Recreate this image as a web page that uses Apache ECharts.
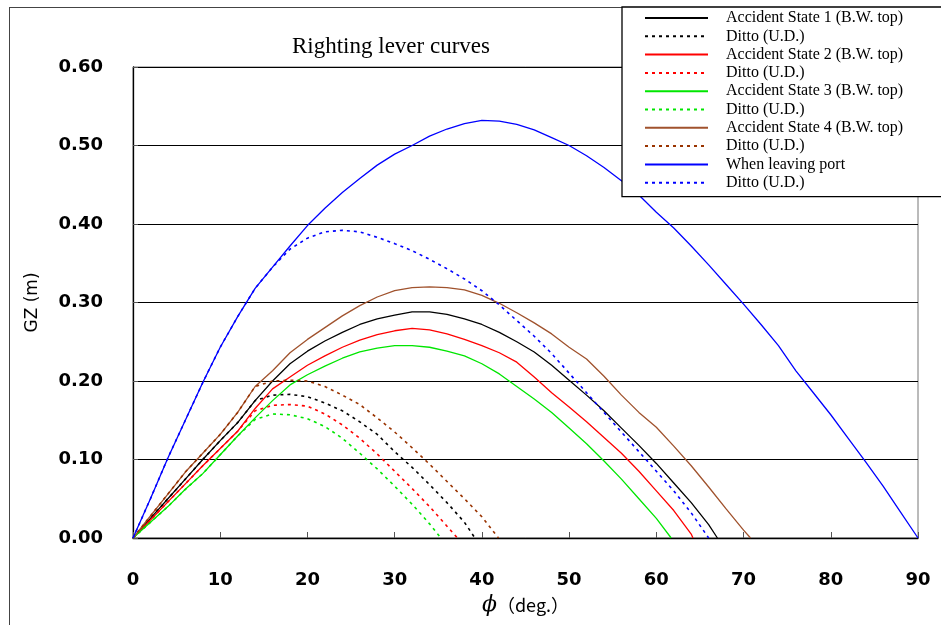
<!DOCTYPE html>
<html lang="en">
<head>
    <meta charset="UTF-8">
    <title>Righting lever curves</title>
    <script src="https://cdn.jsdelivr.net/npm/echarts@6/dist/echarts.min.js"></script>
    <style>
        body { margin: 0; background: #fff; overflow: hidden; }
        #frame { position: absolute; left: 9px; top: 7px; width: 1000px; height: 700px; border: 1.5px solid #444; }
        #main { position: absolute; left: 0; top: 0; width: 941px; height: 625px; }
    </style>
</head>
<body>
<div id="frame"></div>
<div id="main"></div>
<script type="text/javascript">
    // heel angle (deg) and GZ (m) for each curve
    var phiPort = [0, 2, 4, 6, 8, 10, 12, 14, 16, 18, 20, 22, 24, 26, 28, 30, 32, 34, 36, 38, 40, 42, 44, 46, 48, 50, 52, 54, 56, 58, 60, 62, 64, 66, 68, 70, 72, 74, 76, 78, 80, 82, 84, 86, 88, 90];
    var gzPort = [0, 0.05, 0.102, 0.15, 0.198, 0.243, 0.282, 0.318, 0.345, 0.372, 0.398, 0.42, 0.44, 0.458, 0.475, 0.489, 0.5, 0.512, 0.521, 0.528, 0.532, 0.531, 0.527, 0.52, 0.51, 0.5, 0.487, 0.472, 0.455, 0.437, 0.415, 0.395, 0.372, 0.348, 0.323, 0.298, 0.272, 0.245, 0.213, 0.185, 0.157, 0.127, 0.097, 0.066, 0.033, 0];
    var phiPortUD = [0, 2, 4, 6, 8, 10, 12, 14, 16, 18, 20, 22, 24, 26, 28, 30, 32, 34, 36, 38, 40, 42, 44, 46, 48, 50, 52, 54, 56, 58, 60, 62, 64, 66];
    var gzPortUD = [0, 0.05, 0.102, 0.15, 0.198, 0.243, 0.282, 0.318, 0.345, 0.368, 0.382, 0.39, 0.392, 0.39, 0.383, 0.375, 0.366, 0.355, 0.343, 0.33, 0.315, 0.297, 0.277, 0.257, 0.235, 0.21, 0.185, 0.16, 0.135, 0.11, 0.085, 0.06, 0.032, 0];

    var phiS1 = [0, 2, 4, 6, 8, 10, 12, 14, 16, 18, 20, 22, 24, 26, 28, 30, 32, 34, 36, 38, 40, 42, 44, 46, 48, 50, 52, 54, 56, 58, 60, 62, 64, 66, 67];
    var gzS1 = [0, 0.025, 0.05, 0.075, 0.1, 0.124, 0.147, 0.175, 0.2, 0.222, 0.238, 0.251, 0.262, 0.272, 0.279, 0.284, 0.288, 0.288, 0.285, 0.279, 0.272, 0.262, 0.25, 0.237, 0.22, 0.201, 0.182, 0.162, 0.14, 0.118, 0.095, 0.07, 0.045, 0.017, 0];
    var phiS1UD = [0, 2, 4, 6, 8, 10, 12, 14, 16, 18, 20, 22, 24, 26, 28, 30, 32, 34, 36, 38, 39.2];
    var gzS1UD = [0, 0.025, 0.05, 0.075, 0.1, 0.124, 0.147, 0.175, 0.182, 0.183, 0.18, 0.172, 0.162, 0.148, 0.132, 0.11, 0.09, 0.068, 0.045, 0.02, 0];

    var phiS2 = [0, 2, 4, 6, 8, 10, 12, 14, 16, 18, 20, 22, 24, 26, 28, 30, 32, 34, 36, 38, 40, 42, 44, 46, 48, 50, 52, 54, 56, 58, 60, 62, 64, 64.2];
    var gzS2 = [0, 0.023, 0.046, 0.069, 0.092, 0.114, 0.136, 0.165, 0.19, 0.205, 0.22, 0.232, 0.243, 0.252, 0.259, 0.264, 0.267, 0.265, 0.26, 0.253, 0.245, 0.236, 0.224, 0.205, 0.185, 0.167, 0.148, 0.128, 0.108, 0.085, 0.06, 0.035, 0.005, 0];
    var phiS2UD = [0, 2, 4, 6, 8, 10, 12, 14, 16, 18, 20, 22, 24, 26, 28, 30, 32, 34, 36, 37.2];
    var gzS2UD = [0, 0.023, 0.046, 0.069, 0.092, 0.114, 0.136, 0.162, 0.169, 0.17, 0.168, 0.158, 0.144, 0.127, 0.107, 0.085, 0.063, 0.04, 0.015, 0];

    var phiS3 = [0, 2, 4, 6, 8, 10, 12, 14, 16, 18, 20, 22, 24, 26, 28, 30, 32, 34, 36, 38, 40, 42, 44, 46, 48, 50, 52, 54, 56, 58, 60, 61.7];
    var gzS3 = [0, 0.02, 0.04, 0.062, 0.082, 0.106, 0.13, 0.153, 0.175, 0.195, 0.208, 0.219, 0.229, 0.237, 0.242, 0.245, 0.245, 0.243, 0.238, 0.232, 0.222, 0.209, 0.193, 0.177, 0.16, 0.14, 0.12, 0.098, 0.075, 0.05, 0.025, 0];
    var phiS3UD = [0, 2, 4, 6, 8, 10, 12, 14, 16, 18, 20, 22, 24, 26, 28, 30, 32, 34, 35.3];
    var gzS3UD = [0, 0.02, 0.04, 0.062, 0.082, 0.106, 0.13, 0.151, 0.158, 0.157, 0.152, 0.142, 0.127, 0.108, 0.088, 0.066, 0.043, 0.018, 0];

    var phiS4 = [0, 2, 4, 6, 8, 10, 12, 14, 16, 18, 20, 22, 24, 26, 28, 30, 32, 34, 36, 38, 40, 42, 44, 46, 48, 50, 52, 54, 56, 58, 60, 62, 64, 66, 68, 70, 70.8];
    var gzS4 = [0, 0.028, 0.056, 0.084, 0.108, 0.132, 0.16, 0.193, 0.213, 0.236, 0.253, 0.268, 0.283, 0.296, 0.307, 0.315, 0.319, 0.32, 0.319, 0.316, 0.309, 0.299, 0.287, 0.274, 0.26, 0.243, 0.228, 0.206, 0.182, 0.16, 0.141, 0.117, 0.092, 0.065, 0.037, 0.01, 0];
    var phiS4UD = [0, 2, 4, 6, 8, 10, 12, 14, 16, 18, 20, 22, 24, 26, 28, 30, 32, 34, 36, 38, 40, 41.9];
    var gzS4UD = [0, 0.028, 0.056, 0.084, 0.108, 0.132, 0.16, 0.193, 0.2, 0.201, 0.2, 0.193, 0.182, 0.17, 0.153, 0.135, 0.115, 0.094, 0.072, 0.05, 0.027, 0];

    // legend names ("Ditto" repeats, so each gets a different count of zero-width spaces)
    var names = [
        'Accident State 1 (B.W. top)', 'Ditto (U.D.)',
        'Accident State 2 (B.W. top)', 'Ditto (U.D.)\u200b',
        'Accident State 3 (B.W. top)', 'Ditto (U.D.)\u200b\u200b',
        'Accident State 4 (B.W. top)', 'Ditto (U.D.)\u200b\u200b\u200b',
        'When leaving port', 'Ditto (U.D.)\u200b\u200b\u200b\u200b'
    ];
    var colors = ['#000000', '#000000', '#ff0000', '#ff0000', '#00e600', '#00e600', '#a0522d', '#993300', '#0000ff', '#0000ff'];
    var xs = [phiS1, phiS1UD, phiS2, phiS2UD, phiS3, phiS3UD, phiS4, phiS4UD, phiPort, phiPortUD];
    var ys = [gzS1, gzS1UD, gzS2, gzS2UD, gzS3, gzS3UD, gzS4, gzS4UD, gzPort, gzPortUD];

    function pairs(x, y) {
        var out = [];
        for (var i = 0; i < x.length; i++) out.push([x[i], y[i]]);
        return out;
    }

    var series = [];
    for (var i = 0; i < names.length; i++) {
        series.push({
            name: names[i],
            type: 'line',
            data: pairs(xs[i], ys[i]),
            symbol: 'none',
            smooth: false,
            lineStyle: {
                color: colors[i],
                width: i % 2 == 0 ? 1.3 : 1.6,
                type: i % 2 == 0 ? 'solid' : [3, 4]
            },
            itemStyle: {color: colors[i]},
            z: 2
        });
    }

    var chart = echarts.init(document.getElementById('main'));
    chart.setOption({
        animation: false,
        title: {
            text: 'Righting lever curves',
            left: 386,
            top: 30,
            textAlign: 'center',
            textStyle: {fontFamily: 'Liberation Serif', fontSize: 23, fontWeight: 'normal', color: '#000'}
        },
        legend: {
            orient: 'vertical',
            left: 622,
            top: 7,
            padding: [3, 45, 6, 22],
            itemWidth: 63,
            itemHeight: 16,
            itemGap: 2.3,
            backgroundColor: '#fff',
            borderColor: '#000',
            borderWidth: 1.3,
            borderRadius: 0,
            itemStyle: {opacity: 0},
            data: names,
            textStyle: {fontFamily: 'Liberation Serif', fontSize: 16, lineHeight: 16, color: '#000', padding: [0, 0, 0, 13]}
        },
        grid: {
            left: 133, right: 23, top: 67, bottom: 87,
            show: true, borderColor: '#777', borderWidth: 1
        },
        xAxis: {
            type: 'value',
            min: 0, max: 90, interval: 10,
            name: '{phi|ϕ}{u|（deg.）}',
            nameLocation: 'middle',
            nameGap: 56,
            nameTextStyle: {
                color: '#000',
                rich: {
                    phi: {fontFamily: 'DejaVu Serif', fontStyle: 'italic', fontSize: 22, color: '#000'},
                    u: {fontFamily: 'Noto Sans CJK JP', fontSize: 18, color: '#000'}
                }
            },
            axisLine: {show: true, lineStyle: {color: '#000', width: 1.3}},
            axisTick: {show: true, inside: true, length: 6, lineStyle: {color: '#555'}},
            axisLabel: {fontFamily: 'DejaVu Sans', fontSize: 18, fontWeight: 'bold', color: '#000', margin: 33},
            splitLine: {show: false}
        },
        yAxis: {
            type: 'value',
            min: 0, max: 0.6, interval: 0.1,
            name: 'GZ (m)',
            nameLocation: 'middle',
            nameGap: 92,
            nameRotate: 90,
            nameTextStyle: {fontFamily: 'DejaVu Sans', fontSize: 17, color: '#000'},
            axisLine: {show: true, lineStyle: {color: '#000', width: 1.3}},
            axisTick: {show: true, inside: true, length: 5, lineStyle: {color: '#555'}},
            axisLabel: {
                fontFamily: 'DejaVu Sans', fontSize: 18, fontWeight: 'bold', color: '#000', margin: 30,
                formatter: function (v) { return v.toFixed(2); }
            },
            splitLine: {show: true, lineStyle: {color: '#000', width: 1.2}}
        },
        series: series
    });
</script>
</body>
</html>
